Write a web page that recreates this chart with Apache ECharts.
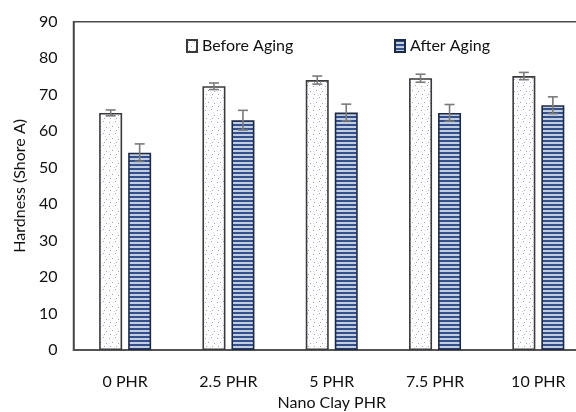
<!DOCTYPE html>
<html>
<head>
<meta charset="utf-8">
<script src="https://cdn.jsdelivr.net/npm/echarts@6/dist/echarts.min.js"></script>
<style>
  html, body { margin: 0; padding: 0; background: #fff; }
  #chart { width: 576px; height: 412px; }
</style>
</head>
<body>
<div id="chart"></div>
<script>
// Hardness of the compound at each nano clay loading, before and after aging
const categories = ['0 PHR', '2.5 PHR', '5 PHR', '7.5 PHR', '10 PHR'];
const beforeAging = [65.0, 72.3, 74.0, 74.5, 75.1];
const beforeErr = [0.8, 0.9, 1.1, 1.1, 1.0];
const afterAging = [54.1, 63.0, 65.1, 65.0, 67.1];
const afterErr = [2.4, 2.7, 2.3, 2.3, 2.3];
const yTicks = [0, 10, 20, 30, 40, 50, 60, 70, 80, 90];

const FONT = 'Lato';
const BAR_W = 23;
const BAR_GAP = 6;

// Fill patterns drawn onto small tiles
function dotTile() {
  const c = document.createElement('canvas');
  c.width = 12; c.height = 12;
  const g = c.getContext('2d');
  g.fillStyle = '#ffffff';
  g.fillRect(0, 0, 12, 12);
  g.fillStyle = 'rgba(70,90,150,0.55)';
  [[1, 2], [7, 1], [4, 6], [10, 7], [2, 10], [8, 10]].forEach(p => g.fillRect(p[0], p[1], 1, 1));
  g.fillStyle = 'rgba(120,140,190,0.3)';
  [[5, 2], [1, 7], [9, 4], [6, 11]].forEach(p => g.fillRect(p[0], p[1], 1, 1));
  return c;
}
function stripeTile() {
  const c = document.createElement('canvas');
  c.width = 4; c.height = 4;
  const g = c.getContext('2d');
  g.fillStyle = '#c3cde0';
  g.fillRect(0, 0, 4, 4);
  g.fillStyle = '#34508c';
  g.fillRect(0, 0, 4, 2);
  return c;
}

function errorSeries(name, values, errs, offset) {
  return {
    type: 'custom',
    name: name + ' err',
    z: 5,
    silent: true,
    data: values.map((v, i) => [i, v, errs[i]]),
    renderItem: function (params, api) {
      const i = api.value(0);
      const v = api.value(1);
      const e = api.value(2);
      const hi = api.coord([i, v + e]);
      const lo = api.coord([i, v - e]);
      const x = hi[0] + offset;
      const cap = 5;
      const style = { stroke: '#7a7a7a', lineWidth: 1.6, fill: null };
      return {
        type: 'group',
        children: [
          { type: 'line', shape: { x1: x, y1: hi[1], x2: x, y2: lo[1] }, style },
          { type: 'line', shape: { x1: x - cap, y1: hi[1], x2: x + cap, y2: hi[1] }, style },
          { type: 'line', shape: { x1: x - cap, y1: lo[1], x2: x + cap, y2: lo[1] }, style }
        ]
      };
    }
  };
}

const chart = echarts.init(document.getElementById('chart'), null, { renderer: 'canvas' });
const half = (BAR_W + BAR_GAP) / 2;
const textStyle = { fontFamily: FONT, fontSize: 16, color: '#111111' };

chart.setOption({
  animation: false,
  backgroundColor: '#ffffff',
  grid: {
    left: 73.5, top: 21.7, right: -14, bottom: 62,
    containLabel: false, outerBoundsMode: 'none',
    show: true, borderColor: '#4a4a4a', borderWidth: 1.5, backgroundColor: 'transparent'
  },
  legend: [
    {
      data: ['Before Aging'], left: 181, top: 33, icon: 'rect',
      itemWidth: 10, itemHeight: 12, itemGap: 4,
      textStyle: textStyle, selectedMode: false
    },
    {
      data: ['After Aging'], left: 389, top: 33, icon: 'rect',
      itemWidth: 10, itemHeight: 12, itemGap: 4,
      textStyle: textStyle, selectedMode: false
    }
  ],
  xAxis: {
    type: 'category',
    data: categories,
    name: 'Nano Clay PHR',
    nameLocation: 'middle',
    nameGap: 45,
    nameTextStyle: textStyle,
    axisLine: { show: true, lineStyle: { color: '#4a4a4a', width: 1.5 } },
    axisTick: { show: false },
    axisLabel: Object.assign({ margin: 24 }, textStyle)
  },
  yAxis: {
    type: 'value',
    min: yTicks[0], max: yTicks[yTicks.length - 1], interval: yTicks[1] - yTicks[0],
    name: 'Hardness (Shore A)',
    nameLocation: 'middle',
    nameGap: 46,
    nameTextStyle: textStyle,
    axisLine: { show: true, lineStyle: { color: '#4a4a4a', width: 1.5 } },
    axisTick: { show: false },
    splitLine: { show: false },
    axisLabel: Object.assign({ margin: 16 }, textStyle)
  },
  series: [
    {
      name: 'Before Aging', type: 'bar', data: beforeAging,
      barWidth: BAR_W, barGap: (BAR_GAP / BAR_W * 100) + '%',
      itemStyle: { color: { image: dotTile(), repeat: 'repeat' }, borderColor: '#3a3a3a', borderWidth: 1.6 }
    },
    {
      name: 'After Aging', type: 'bar', data: afterAging,
      barWidth: BAR_W,
      itemStyle: { color: { image: stripeTile(), repeat: 'repeat' }, borderColor: '#1e2a44', borderWidth: 1.6 }
    },
    errorSeries('Before Aging', beforeAging, beforeErr, -half),
    errorSeries('After Aging', afterAging, afterErr, half)
  ]
});
</script>
</body>
</html>
